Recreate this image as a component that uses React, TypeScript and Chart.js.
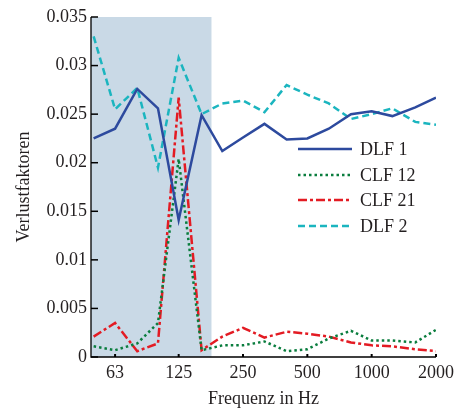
import React, { useEffect, useRef } from "react";
import { Chart, registerables } from "chart.js";

Chart.register(...registerables);

const frequencies = [50, 63, 80, 100, 125, 160, 200, 250, 315, 400, 500, 630, 800, 1000, 1250, 1600, 2000];
const xTickValues = [63, 125, 250, 500, 1000, 2000];
const yTickValues = [0, 0.005, 0.01, 0.015, 0.02, 0.025, 0.03, 0.035];

const dlf1 = [0.0225, 0.0235, 0.0276, 0.0256, 0.0141, 0.0249, 0.0212, 0.0226, 0.024, 0.0224, 0.0225, 0.0235, 0.0250, 0.0253, 0.0248, 0.0257, 0.0267];
const clf12 = [0.0011, 0.0007, 0.0014, 0.0035, 0.0204, 0.0007, 0.0012, 0.0012, 0.0016, 0.0006, 0.0008, 0.0019, 0.0027, 0.0017, 0.0017, 0.0015, 0.0028];
const clf21 = [0.0021, 0.0035, 0.0006, 0.0014, 0.0267, 0.0007, 0.0021, 0.0030, 0.0020, 0.0026, 0.0024, 0.0021, 0.0015, 0.0012, 0.0011, 0.0008, 0.0006];
const dlf2 = [0.0330, 0.0255, 0.0277, 0.0195, 0.0308, 0.0250, 0.0261, 0.0264, 0.0252, 0.0280, 0.0270, 0.0261, 0.0245, 0.0250, 0.0256, 0.0242, 0.0239];

const seriesNames = ["DLF 1", "CLF 12", "CLF 21", "DLF 2"];
const shadeUpTo = 178;

const FONT = "'Liberation Serif', 'Times New Roman', serif";
const TEXT = "#231f20";

export default function App() {
  const ref = useRef<HTMLCanvasElement>(null);
  useEffect(() => {
    if (!ref.current) return;
    const toPts = (arr: number[]) => arr.map((v, i) => ({ x: frequencies[i], y: v }));
    const styles = [
      { color: "#2d4a9e", dash: [] as number[] },
      { color: "#0a7d3e", dash: [2.5, 3] },
      { color: "#e31b23", dash: [9, 3, 3, 3] },
      { color: "#1bb5bf", dash: [7, 4] },
    ];
    const values = [dlf1, clf12, clf21, dlf2];

    const shadePlugin = {
      id: "shade",
      beforeDatasetsDraw(chart: any) {
        const { ctx, chartArea, scales } = chart;
        const x2 = scales.x.getPixelForValue(shadeUpTo);
        ctx.save();
        ctx.fillStyle = "#c9d9e6";
        ctx.fillRect(chartArea.left, chartArea.top, x2 - chartArea.left, chartArea.bottom - chartArea.top);
        ctx.restore();
      },
      afterDatasetsDraw(chart: any) {
        const { ctx, chartArea, scales } = chart;
        ctx.save();
        ctx.strokeStyle = "#000";
        ctx.lineWidth = 1.3;
        ctx.beginPath();
        ctx.moveTo(chartArea.left, chartArea.top);
        ctx.lineTo(chartArea.left, chartArea.bottom);
        ctx.lineTo(chartArea.right, chartArea.bottom);
        ctx.stroke();
        ctx.lineWidth = 1.5;
        yTickValues.forEach((v) => {
          const y = scales.y.getPixelForValue(v);
          ctx.beginPath();
          ctx.moveTo(chartArea.left, y);
          ctx.lineTo(chartArea.left + 7, y);
          ctx.stroke();
        });
        ctx.lineWidth = 2;
        xTickValues.forEach((v) => {
          const x = scales.x.getPixelForValue(v);
          ctx.beginPath();
          ctx.moveTo(x, chartArea.bottom);
          ctx.lineTo(x, chartArea.bottom - 3);
          ctx.stroke();
        });
        const rows = [149, 175, 200, 226];
        seriesNames.forEach((name, i) => {
          const y = rows[i];
          ctx.strokeStyle = styles[i].color;
          ctx.lineWidth = 2.5;
          ctx.setLineDash(styles[i].dash);
          ctx.beginPath();
          ctx.moveTo(298, y);
          ctx.lineTo(352, y);
          ctx.stroke();
          ctx.setLineDash([]);
          ctx.fillStyle = TEXT;
          ctx.font = `18px ${FONT}`;
          ctx.textBaseline = "middle";
          ctx.textAlign = "left";
          ctx.fillText(name, 360, y + 1);
        });
        ctx.restore();
      },
    };

    const chart = new Chart(ref.current, {
      type: "line",
      data: {
        datasets: values.map((arr, i) => ({
          label: seriesNames[i],
          data: toPts(arr),
          borderColor: styles[i].color,
          borderDash: styles[i].dash,
          borderWidth: 2.5,
          pointRadius: 0,
          tension: 0,
          fill: false,
        })),
      },
      options: {
        animation: false,
        responsive: false,
        layout: { padding: { left: 0, right: 24, top: 17, bottom: 0 } },
        plugins: { legend: { display: false }, tooltip: { enabled: false } },
        scales: {
          x: {
            type: "logarithmic",
            min: 48.6,
            max: 2000,
            afterBuildTicks: (s: any) => {
              s.ticks = xTickValues.map((v) => ({ value: v }));
            },
            afterFit: (s: any) => {
              s.height = 53;
            },
            grid: { display: false, drawTicks: false },
            border: { display: false },
            ticks: {
              color: TEXT,
              font: { family: FONT, size: 18 },
              padding: 5,
              maxRotation: 0,
              autoSkip: false,
              callback: (v: any) => String(v),
            },
            title: {
              display: true,
              text: "Frequenz in Hz",
              color: TEXT,
              font: { family: FONT, size: 18 },
              padding: { top: 0, bottom: 0 },
            },
          },
          y: {
            min: 0,
            max: 0.035,
            afterBuildTicks: (s: any) => {
              s.ticks = yTickValues.map((v) => ({ value: v }));
            },
            afterFit: (s: any) => {
              s.width = 91;
            },
            grid: { display: false, drawTicks: false },
            border: { display: false },
            ticks: {
              color: TEXT,
              font: { family: FONT, size: 18 },
              padding: 4,
              callback: (v: any) => String(Math.round(Number(v) * 1000) / 1000),
            },
            title: {
              display: true,
              text: "Verlustfaktoren",
              color: TEXT,
              font: { family: FONT, size: 18 },
              padding: { top: 13, bottom: 4 },
            },
          },
        },
      },
      plugins: [shadePlugin],
    });
    return () => chart.destroy();
  }, []);

  return (
    <div style={{ position: "absolute", left: 0, top: 0, width: 460, height: 410 }}>
      <canvas ref={ref} width={460} height={410} />
    </div>
  );
}
